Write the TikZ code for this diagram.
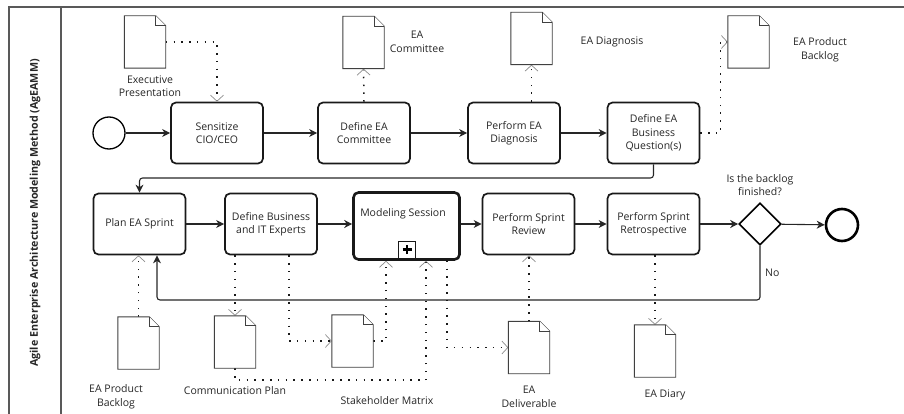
\documentclass[tikz,border=0pt]{standalone}
\usepackage{fontspec}
\setmainfont{Open Sans}
\usetikzlibrary{arrows.meta,shapes.geometric}

% data object: page with a folded top-right corner, drawn over an invisible node
\newcommand\docshape[1]{%
  \draw[docline] (#1.south west) -- (#1.north west) -- ([xshift=-10pt]#1.north east)
    -- ([yshift=-10pt]#1.north east) -- (#1.south east) -- cycle;
  \draw[docline] ([xshift=-10pt]#1.north east) |- ([yshift=-10pt]#1.north east);
}

\begin{document}
\begin{tikzpicture}[x=1pt,y=-1pt,
  every node/.style={font=\fontsize{10.5}{13.5}\selectfont, text=black!85},
  task/.style={draw=black!90, line width=1.7pt, rounded corners=5pt,
    minimum width=92pt, minimum height=61pt, align=center, inner sep=2pt},
  subproc/.style={task, line width=2.6pt, minimum width=106pt, minimum height=67pt},
  doc/.style={minimum width=41pt, minimum height=52pt, inner sep=0pt},
  docline/.style={draw=black!75, line width=0.9pt, fill=white},
  lbl/.style={align=center, inner sep=0pt},
  frame/.style={draw=black!65, line width=1.1pt},
  flow/.style={draw=black!85, line width=1.1pt,
    -{Stealth[length=8pt,width=8pt,inset=2.5pt]}},
  assoc/.style={draw=black!90, line width=1.5pt, line cap=butt,
    dash pattern=on 1.5pt off 6.3pt,
    -{Straight Barb[length=6pt,width=13pt,line width=0.7pt,color=black!45]}},
  event/.style={circle, draw=black, minimum size=32pt, inner sep=0pt},
]
\useasboundingbox (0,0) rectangle (904,414);

% pool frame and its header band
\coordinate (poolTL) at (9,7);
\coordinate (poolTR) at (904,7);
\coordinate (poolBL) at (9,414);
\coordinate (bandT) at (61,7);
\coordinate (bandB) at (61,414);
\draw[frame] (poolBL) -- (poolTL) -- (poolTR);
\draw[frame] (bandT) -- (bandB);
\node[rotate=90, font=\bfseries\fontsize{10.7}{12}\selectfont] (poolLbl) at (35,213)
  {Agile Enterprise Architecture Modeling Method (AgEAMM)};

% first row of activities
\node[event, line width=1.3pt] (startE) at (109,133) {};
\node[task] (tSens) at (217,133) {Sensitize\\CIO/CEO};
\node[task] (tCom)  at (364,133) {Define EA\\Committee};
\node[task] (tDiag) at (514,133) {Perform EA\\Diagnosis};
\node[task] (tBQ)   at (653.5,133) {Define EA\\Business\\Question(s)};

% second row of activities
\node[task] (tPlan)  at (139.5,224) {Plan EA Sprint};
\node[task] (tExp)   at (271,224) {Define Business\\and IT Experts};
\node[subproc] (tMS) at (406.5,226) {};
\node[lbl] (msText) at (403,214) {Modeling Session};
\node[draw=black!90, line width=1pt, minimum width=17pt, minimum height=17pt,
  inner sep=0pt, fill=white] (msPlus) at (407,249.5) {};
\draw[line width=2.2pt] ([xshift=-4.5pt]msPlus.center) -- ([xshift=4.5pt]msPlus.center);
\draw[line width=2.2pt] ([yshift=-4.5pt]msPlus.center) -- ([yshift=4.5pt]msPlus.center);
\node[task] (tRev)   at (528.5,224) {Perform Sprint\\Review};
\node[task] (tRetro) at (653.5,224) {Perform Sprint\\Retrospective};
\node[diamond, aspect=1, draw=black, line width=1.6pt, minimum width=42pt,
  minimum height=42pt, inner sep=0pt] (gw) at (760,224) {};
\node[event, line width=2.6pt] (endE) at (842,225) {};
\node[lbl] (gwText) at (760,185) {Is the backlog\\finished?};
\node[lbl, anchor=west] (noText) at (765,273) {No};

% data objects
\node[doc] (dExec)  at (145,42) {};
\node[doc] (dCom)   at (363.5,42.5) {};
\node[doc] (dDiag)  at (531.5,38.5) {};
\node[doc] (dPB1)   at (748.5,42) {};
\node[doc] (dPB2)   at (138.5,343) {};
\node[doc] (dComm)  at (235,342) {};
\node[doc] (dStake) at (352.5,341) {};
\node[doc] (dDeliv) at (529,347.5) {};
\node[doc] (dDiary) at (655,351) {};

\node[lbl] (lExec)  at (150,86) {Executive\\Presentation};
\node[lbl] (lCom)   at (417,42) {EA\\Committee};
\node[lbl] (lDiag)  at (612,42) {EA Diagnosis};
\node[lbl] (lPB1)   at (820,50) {EA Product\\Backlog};
\node[lbl] (lPB2)   at (116,397) {EA Product\\Backlog};
\node[lbl] (lComm)  at (235,391) {Communication Plan};
\node[lbl] (lStake) at (387,401) {Stakeholder Matrix};
\node[lbl] (lDeliv) at (529,397) {EA\\Deliverable};
\node[lbl] (lDiary) at (665,395) {EA Diary};

% sequence flows
\draw[flow] (startE) -- (tSens);
\draw[flow] (tSens) -- (tCom);
\draw[flow] (tCom) -- (tDiag);
\draw[flow] (tDiag) -- (tBQ);
\coordinate (rowBreak) at (400,178);
\draw[flow, rounded corners=3pt] (tBQ.south) |- (rowBreak) -| (tPlan.north);
\draw[flow] (tPlan) -- (tExp);
\draw[flow] (tExp.east) -- (tMS.west |- tExp.east);
\draw[flow] (tMS.east |- tRev.west) -- (tRev.west);
\draw[flow] (tRev) -- (tRetro);
\draw[flow] (tRetro) -- (gw);
\draw[flow] (gw) -- (endE);
\coordinate (loopBack) at (157,300);
\draw[flow, rounded corners=3pt] (gw.south) |- (loopBack) -- (loopBack |- tPlan.south);

% associations
\draw[assoc] (dExec.east) -| (tSens.north);
\draw[assoc] (tCom.north) -- (dCom.south);
\draw[assoc] (tDiag.north -| dDiag.south) -- (dDiag.south);
\draw[assoc] (tBQ.east) -- ++(20,0) |- (dPB1.west);
\draw[assoc] (dPB2.north) -- (dPB2.north |- tPlan.south);
\draw[assoc] (tExp.south -| dComm.north) -- (dComm.north);
\coordinate (commRoute) at (426,380);
\draw[assoc] (dComm.south) |- (commRoute) -- (commRoute |- tMS.south);
\draw[assoc] ([xshift=18pt]tExp.south) |- (dStake.west);
\draw[assoc] (dStake.east) -| ([xshift=-20.5pt]tMS.south);
\draw[assoc] ([xshift=40.5pt]tMS.south) |- (dDeliv.west);
\draw[assoc] (dDeliv.north) -- (dDeliv.north |- tRev.south);
\draw[assoc] (tRetro.south -| dDiary.north) -- (dDiary.north);

% page outlines of the data objects
\docshape{dExec}
\docshape{dCom}
\docshape{dDiag}
\docshape{dPB1}
\docshape{dPB2}
\docshape{dComm}
\docshape{dStake}
\docshape{dDeliv}
\docshape{dDiary}
\end{tikzpicture}
\end{document}
